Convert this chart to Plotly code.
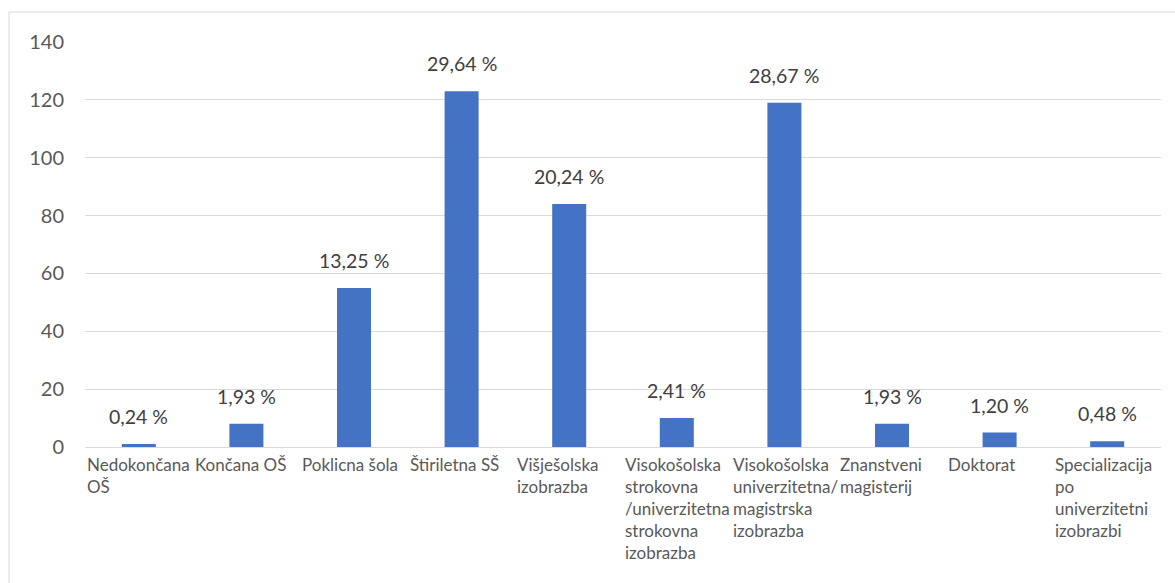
import plotly.graph_objects as go

# Education levels and respondent counts
categories = [
    "Nedokončana OŠ",
    "Končana OŠ",
    "Poklicna šola",
    "Štiriletna SŠ",
    "Višješolska izobrazba",
    "Visokošolska strokovna /univerzitetna strokovna izobrazba",
    "Visokošolska univerzitetna/magistrska izobrazba",
    "Znanstveni magisterij",
    "Doktorat",
    "Specializacija po univerzitetni izobrazbi",
]
counts = [1, 8, 55, 123, 84, 10, 119, 8, 5, 2]

# Wrapped axis labels as they appear under each category
axis_labels = [
    "Nedokončana<br>OŠ",
    "Končana OŠ",
    "Poklicna šola",
    "Štiriletna SŠ",
    "Višješolska<br>izobrazba",
    "Visokošolska<br>strokovna<br>/univerzitetna<br>strokovna<br>izobrazba",
    "Visokošolska<br>univerzitetna/<br>magistrska<br>izobrazba",
    "Znanstveni<br>magisterij",
    "Doktorat",
    "Specializacija<br>po<br>univerzitetni<br>izobrazbi",
]
y_ticks = [0, 20, 40, 60, 80, 100, 120, 140]

total = sum(counts)
pct_labels = [f"{c / total * 100:.2f}".replace(".", ",") + " %" for c in counts]

FONT = "Lato"
TEXT = "#595959"

fig = go.Figure(
    go.Bar(
        x=categories,
        y=counts,
        marker=dict(color="#4472C4", line=dict(width=0)),
        hoverinfo="skip",
    )
)

annotations = []
for cat, c, lab in zip(categories, counts, pct_labels):
    annotations.append(dict(
        x=cat, y=c, xref="x", yref="y", text=lab, showarrow=False,
        yanchor="bottom", yshift=14,
        font=dict(family=FONT, size=19.5, color="#404040"),
    ))
for i, lab in enumerate(axis_labels):
    annotations.append(dict(
        x=i - 0.5, y=0, xref="x", yref="paper", text=lab, showarrow=False,
        xanchor="left", yanchor="top", align="left", yshift=-5,
        font=dict(family=FONT, size=17, color=TEXT),
    ))

fig.update_layout(
    width=1175, height=583,
    margin=dict(l=85, r=14, t=42, b=136),
    paper_bgcolor="white", plot_bgcolor="white",
    bargap=0.684,
    showlegend=False,
    font=dict(family=FONT, color=TEXT),
    annotations=annotations,
    shapes=[dict(
        type="rect", xref="paper", yref="paper",
        x0=-0.0706, x1=1.2, y0=-0.5, y1=1.074,
        line=dict(color="#D9D9D9", width=1), fillcolor="rgba(0,0,0,0)",
        layer="below",
    )],
    xaxis=dict(
        type="category", showticklabels=False, showgrid=False,
        showline=False, zeroline=False, ticks="",
        range=[-0.5, len(categories) - 0.5],
    ),
    yaxis=dict(
        range=[0, 140], tickvals=y_ticks,
        showgrid=True, gridcolor="#D9D9D9", gridwidth=1,
        zeroline=True, zerolinecolor="#D9D9D9", zerolinewidth=1,
        showline=False, ticks="", ticklabelstandoff=20,
        tickfont=dict(family=FONT, size=20, color=TEXT),
    ),
)

fig.write_html("out.html")
